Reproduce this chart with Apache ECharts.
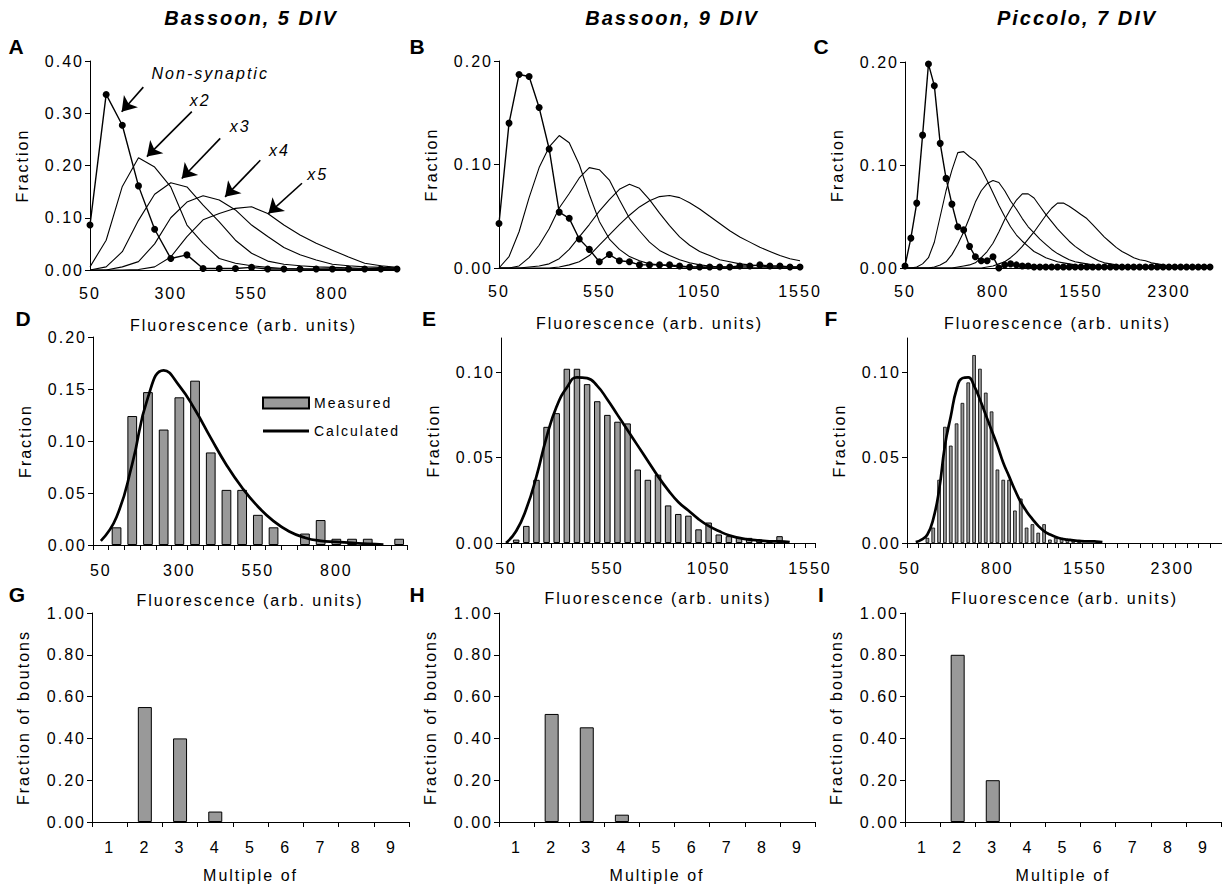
<!DOCTYPE html>
<html>
<head>
<meta charset="utf-8">
<script src="https://cdn.jsdelivr.net/npm/echarts@6/dist/echarts.min.js"></script>
<style>
html, body { margin: 0; padding: 0; background: #fff; }
#main { width: 1222px; height: 885px; }
#main text { letter-spacing: 2px; }
</style>
</head>
<body>
<div id="main"></div>
<script>
// ---- panel A : Bassoon, 5 DIV ----
var fluorA = [50,100,150,200,250,300,350,400,450,500, 550,600,650,700,750,800,850,900,950,1000];
var nonSynA = [0.086,0.336,0.277,0.161,0.078,0.022,0.029,0.003,0.003,0.003, 0.005,0.002,0.002,0.002,0.002,0.002,0.002,0.002,0.002,0.002];
var x2A = [0.006,0.057,0.160,0.215,0.197,0.159,0.086,0.051,0.022,0.013, 0.008,0.005,0.003,0.002,0.001,0.001,0.001,0.001,0.001,0.001];
var x3A = [0,0.006,0.035,0.095,0.145,0.167,0.159,0.124,0.092,0.057, 0.032,0.017,0.011,0.008,0.006,0.005,0.004,0.003,0.003,0.002];
var x4A = [0,0,0.006,0.016,0.050,0.100,0.130,0.142,0.134,0.115, 0.086,0.064,0.043,0.029,0.019,0.011,0.008,0.006,0.005,0.004];
var x5A = [0,0,0,0.001,0.006,0.025,0.064,0.096,0.108,0.118, 0.121,0.108,0.086,0.067,0.051,0.038,0.025,0.013,0.008,0.005];
var ticksA = [50,300,550,800];
// annotation arrows [fromX, fromY, toX, toY] and labels [text, x, y]
var arrowsA = [[215,0.350,148,0.303],[365,0.303,226,0.217],[453,0.252,334,0.175],[577,0.210,468,0.140],[706,0.166,602,0.108]];
var labelsA = [['Non-synaptic',422,0.376],['x2',391,0.325],['x3',515,0.275],['x4',636,0.229],['x5',755,0.182]];

// ---- panel B : Bassoon, 9 DIV ----
var fluorB = [50,100,150,200,250,300,350,400,450,500, 550,600,650,700,750,800,850,900,950,1000,
              1050,1100,1150,1200,1250,1300,1350,1400,1450,1500, 1550];
var nonSynB = [0.043,0.140,0.187,0.185,0.155,0.115,0.054,0.048,0.028,0.018, 0.006,0.013,0.007,0.006,0.003,0.003,0.003,0.003,0.002,0.001,
               0.001,0.001,0.001,0.001,0.002,0.002,0.003,0.002,0.002,0.001, 0.001];
var x2B = [0,0.011,0.035,0.068,0.097,0.117,0.128,0.121,0.100,0.071, 0.045,0.028,0.018,0.011,0.007,0.004,0.003,0.002,0.001,0.001,
           0.001,0,0,0,0,0,0,0,0,0, 0];
var x3B = [0,0,0.002,0.010,0.022,0.038,0.058,0.072,0.087,0.097, 0.095,0.085,0.066,0.048,0.036,0.025,0.017,0.012,0.008,0.005,
           0.003,0.002,0.001,0.001,0,0,0,0,0,0, 0];
var x4B = [0,0,0,0.001,0.002,0.004,0.009,0.018,0.030,0.042, 0.055,0.066,0.076,0.081,0.077,0.066,0.053,0.041,0.030,0.022,
           0.016,0.012,0.008,0.006,0.004,0.003,0.002,0.001,0.001,0.001, 0.001];
var x5B = [0,0,0,0,0,0,0.001,0.003,0.006,0.012, 0.022,0.032,0.042,0.051,0.059,0.065,0.069,0.070,0.068,0.063,
           0.057,0.050,0.043,0.036,0.030,0.025,0.020,0.016,0.012,0.009, 0.007];
var ticksB = [50,550,1050,1550];

// ---- panel C : Piccolo, 7 DIV ----
var fluorC = [50,100,150,200,250,300,350,400,450,500, 550,600,650,700,750,800,850,900,950,1000,
              1050,1100,1150,1200,1250,1300,1350,1400,1450,1500, 1550,1600,1650,1700,1750,1800,1850,1900,1950,2000,
              2050,2100,2150,2200,2250,2300,2350,2400,2450,2500, 2550,2600,2650];
var nonSynC = [0.002,0.029,0.063,0.129,0.198,0.177,0.121,0.087,0.062,0.040, 0.037,0.021,0.011,0.007,0.007,0.011,0.000,0.003,0.004,0.003,
               0.002,0.002,0.001,0.001,0.001,0.001,0.001,0.001,0.001,0.001, 0.001,0.001,0.001,0.001,0.001,0.001,0.001,0.001,0.001,0.001,
               0.001,0.001,0.001,0.001,0.001,0.001,0.001,0.001,0.001,0.001, 0.001,0.001,0.001];
var x2C = [0,0,0.001,0.004,0.010,0.025,0.050,0.075,0.095,0.112, 0.113,0.108,0.104,0.096,0.085,0.073,0.061,0.050,0.040,0.032,
           0.026,0.021,0.016,0.013,0.010,0.008,0.006,0.005,0.004,0.003, 0.002,0.002,0.001,0.001,0,0,0,0,0,0,
           0,0,0,0,0,0,0,0,0,0, 0,0,0];
var x3C = [0,0,0,0,0,0.001,0.003,0.006,0.013,0.023, 0.035,0.049,0.064,0.075,0.082,0.085,0.083,0.075,0.065,0.057,
           0.048,0.040,0.034,0.028,0.023,0.018,0.014,0.011,0.008,0.006, 0.005,0.004,0.003,0.002,0.001,0.001,0,0,0,0,
           0,0,0,0,0,0,0,0,0,0, 0,0,0];
var x4C = [0,0,0,0,0,0,0,0,0,0.001, 0.002,0.003,0.005,0.010,0.016,0.024,0.035,0.047,0.057,0.066,
           0.072,0.072,0.068,0.060,0.052,0.045,0.038,0.032,0.026,0.021, 0.017,0.013,0.010,0.007,0.005,0.004,0.003,0.002,0.001,0.001,
           0,0,0,0,0,0,0,0,0,0, 0,0,0];
var x5C = [0,0,0,0,0,0,0,0,0,0, 0,0,0,0,0.001,0.002,0.004,0.006,0.010,0.015,
           0.021,0.028,0.035,0.043,0.051,0.058,0.063,0.063,0.060,0.056, 0.052,0.048,0.042,0.036,0.030,0.025,0.020,0.016,0.013,0.010,
           0.008,0.007,0.005,0.004,0.003,0.002,0.001,0.001,0,0, 0,0,0];
var ticksC = [50,800,1550,2300];

// ---- panels D, E, F : measured vs calculated histograms ----
var binsD = [50,100,150,200,250,300,350,400,450,500, 550,600,650,700,750,800,850,900,950,1000];
var measuredD = [0,0.017,0.124,0.147,0.111,0.142,0.158,0.089,0.053,0.053, 0.029,0.017,0,0.011,0.024,0.006,0.006,0.006,0,0.006];
var calcD = [0.004,0.027,0.078,0.142,0.168,0.153,0.130,0.103,0.077,0.055, 0.037,0.023,0.013,0.007,0.004,0.003,0.002,0.001,0.0005,'-'];

var binsE = [50,100,150,200,250,300,350,400,450,500, 550,600,650,700,750,800,850,900,950,1000,
             1050,1100,1150,1200,1250,1300,1350,1400,1450,1500, 1550];
var measuredE = [0,0.002,0.010,0.037,0.068,0.076,0.102,0.102,0.093,0.083, 0.075,0.071,0.070,0.043,0.037,0.040,0.022,0.017,0.016,0.008,
                 0.012,0.005,0.004,0.003,0.003,0.002,0.001,0.004,0,0, 0];
var calcE = [0,0.007,0.020,0.039,0.062,0.080,0.091,0.097,0.0965,0.092, 0.084,0.075,0.066,0.057,0.048,0.039,0.031,0.024,0.019,0.014,
             0.010,0.007,0.0045,0.003,0.002,0.0015,0.001,0.001,0.0005,'-', '-'];

var binsF = [50,100,150,200,250,300,350,400,450,500, 550,600,650,700,750,800,850,900,950,1000,
             1050,1100,1150,1200,1250,1300,1350,1400,1450,1500, 1550,1600,1650,1700,1750,1800,1850,1900,1950,2000,
             2050,2100,2150,2200,2250,2300,2350,2400,2450,2500, 2550,2600,2650,2700];
var measuredF = [0,0,0,0.003,0.009,0.037,0.068,0.057,0.070,0.082, 0.094,0.110,0.102,0.088,0.077,0.043,0.037,0.037,0.019,0.026,
                 0.009,0.011,0.006,0.011,0.002,0.003,0.003,0.002,0.0015,0.001, 0,0,0,0,0,0,0,0,0,0,
                 0,0,0,0,0,0,0,0,0,0, 0,0,0,0];
var calcF = ['-',0.0005,0.002,0.005,0.014,0.031,0.057,0.074,0.090,0.0965, 0.097,0.092,0.084,0.075,0.066,0.057,0.047,0.039,0.031,0.024,
             0.0185,0.014,0.010,0.007,0.005,0.0035,0.0025,0.002,0.0015,0.0012, 0.001,0.001,0.0008,0.0005,'-','-','-','-','-','-',
             '-','-','-','-','-','-','-','-','-','-', '-','-','-','-'];

// ---- panels G, H, I : fraction of boutons ----
var multiples = ['1','2','3','4','5','6','7','8','9'];
var boutonsG = [0,0.55,0.40,0.05,0,0,0,0,0];
var boutonsH = [0,0.517,0.453,0.035,0,0,0,0,0];
var boutonsI = [0,0.80,0.20,0,0,0,0,0,0];

var FONT = '"Liberation Sans", Arial, sans-serif';
var xName = 'Fluorescence (arb. units)';

function zip(xs, ys) {
    return xs.map(function (x, i) { return [x, ys[i]]; });
}
function fmt2(v) { return Number(v).toFixed(2); }
function plain(v) { return String(v); }

var grids = [
    {left: 90,  top: 61,  width: 307, height: 209},   // A
    {left: 499, top: 61,  width: 301, height: 207},   // B
    {left: 905, top: 62,  width: 305, height: 206},   // C
    {left: 93,  top: 337, width: 314, height: 208},   // D
    {left: 501, top: 338, width: 314, height: 205},   // E
    {left: 907, top: 338, width: 315, height: 205},   // F
    {left: 92,  top: 613, width: 317, height: 209},   // G
    {left: 499, top: 613, width: 316, height: 209},   // H
    {left: 905, top: 613, width: 316, height: 209}    // I
];

var lineAxis = {show: true, onZero: false, lineStyle: {color: '#000', width: 1}};
var labelBase = {color: '#000', fontSize: 16, fontFamily: FONT};

function yAxisOf(g, max, interval, name, custom) {
    var ax = {
        type: 'value', gridIndex: g, min: 0, max: max, interval: interval,
        name: name, nameLocation: 'middle', nameGap: name === 'Fraction' ? 60 : 61,
        nameTextStyle: {color: '#000', fontSize: 16, fontFamily: FONT},
        axisLine: lineAxis,
        axisTick: {show: true, length: 5, lineStyle: {color: '#000'}},
        axisLabel: Object.assign({margin: 6, formatter: fmt2}, labelBase),
        splitLine: {show: false}
    };
    if (custom) {
        delete ax.interval;
        ax.axisLabel.customValues = custom;
        ax.axisTick.customValues = custom;
    }
    return ax;
}

function xValueAxis(g, max, ticks) {
    return {
        type: 'value', gridIndex: g, min: 50, max: max,
        name: xName, nameLocation: 'middle', nameGap: 47,
        nameTextStyle: {color: '#000', fontSize: 16, fontFamily: FONT},
        axisLine: lineAxis,
        axisTick: {show: false},
        axisLabel: Object.assign({margin: 15, customValues: ticks, formatter: plain}, labelBase),
        splitLine: {show: false}
    };
}

function xCatAxis(g, cats, labelEvery, tickEvery, name) {
    return {
        type: 'category', gridIndex: g, data: cats, boundaryGap: true,
        name: name, nameLocation: 'middle', nameGap: name === xName ? 47 : 45,
        nameTextStyle: {color: '#000', fontSize: 16, fontFamily: FONT},
        axisLine: lineAxis,
        axisTick: {show: true, interval: tickEvery, length: 5, alignWithLabel: false, lineStyle: {color: '#000'}},
        axisLabel: Object.assign({margin: 17, interval: labelEvery}, labelBase),
        splitLine: {show: false}
    };
}

function curve(g, name, xs, ys) {
    return {
        name: name, type: 'line', xAxisIndex: g, yAxisIndex: g,
        data: zip(xs, ys), symbol: 'none', silent: true,
        lineStyle: {color: '#000', width: 1.1}, itemStyle: {color: '#000'}
    };
}
function dots(g, name, xs, ys) {
    return {
        name: name, type: 'line', xAxisIndex: g, yAxisIndex: g, z: 5,
        data: zip(xs, ys), symbol: 'circle', symbolSize: 7, silent: true,
        lineStyle: {color: '#000', width: 1.4}, itemStyle: {color: '#000'}
    };
}
function bars(g, name, ys, width, border) {
    return {
        name: name, type: 'bar', xAxisIndex: g, yAxisIndex: g,
        // empty bins get no outline so nothing is drawn on the axis
        data: ys.map(function (v) { return v === 0 ? {value: 0, itemStyle: {borderWidth: 0}} : v; }),
        barWidth: width, silent: true,
        itemStyle: {color: '#999999', borderColor: '#000', borderWidth: border}
    };
}
function calc(g, name, ys) {
    return {
        name: name, type: 'line', xAxisIndex: g, yAxisIndex: g, data: ys,
        smooth: true, symbol: 'none', silent: true, z: 4,
        lineStyle: {color: '#000', width: 2.7}, itemStyle: {color: '#000'}
    };
}

var nonSynAseries = dots(0, 'Non-synaptic A', fluorA, nonSynA);
nonSynAseries.markLine = {
    silent: true, symbol: ['none', 'arrow'], symbolSize: 14,
    lineStyle: {color: '#000', width: 1.6, type: 'solid'},
    label: {show: false},
    data: arrowsA.map(function (a) { return [{coord: [a[0], a[1]]}, {coord: [a[2], a[3]]}]; })
};
nonSynAseries.markPoint = {
    silent: true, symbol: 'circle', symbolSize: 1,
    itemStyle: {color: 'rgba(0,0,0,0)'},
    label: {show: true, position: 'inside', formatter: '{b}', color: '#000',
            fontSize: 16, fontStyle: 'italic', fontFamily: FONT},
    data: labelsA.map(function (l) { return {name: l[0], coord: [l[1], l[2]]}; })
};

var titles = [['Bassoon, 5 DIV', 251], ['Bassoon, 9 DIV', 672], ['Piccolo, 7 DIV', 1077]];
var letters = [['A', 17, 46], ['B', 418, 46], ['C', 822, 46],
               ['D', 24, 318], ['E', 430, 318], ['F', 832, 318],
               ['G', 18, 594], ['H', 418, 594], ['I', 822, 594]];

var graphics = [];
titles.forEach(function (t) {
    graphics.push({type: 'text', x: t[1], y: 18, silent: true,
        style: {text: t[0], fill: '#000', font: 'italic bold 20px ' + FONT,
                align: 'center', verticalAlign: 'middle', textAlign: 'center', textVerticalAlign: 'middle'}});
});
letters.forEach(function (t) {
    graphics.push({type: 'text', x: t[1], y: t[2], silent: true,
        style: {text: t[0], fill: '#000', font: 'bold 21px ' + FONT,
                align: 'center', verticalAlign: 'middle', textAlign: 'center', textVerticalAlign: 'middle'}});
});

var myChart = echarts.init(document.getElementById('main'), null, {renderer: 'svg'});
option = {
    animation: false,
    backgroundColor: '#fff',
    textStyle: {fontFamily: FONT},
    grid: grids,
    legend: {
        data: [
            {name: 'Measured', icon: 'rect'},
            {name: 'Calculated', icon: 'path://M0,0H46V3H0Z', itemStyle: {color: '#000', borderWidth: 0}}
        ],
        orient: 'vertical', left: 257, top: 391,
        itemWidth: 46, itemHeight: 11, itemGap: 14,
        selectedMode: false,
        textStyle: {color: '#000', fontSize: 14, fontFamily: FONT}
    },
    xAxis: [
        xValueAxis(0, 1000, ticksA),
        xValueAxis(1, 1550, ticksB),
        xValueAxis(2, 2650, ticksC),
        xCatAxis(3, binsD, 4, 0, xName),
        xCatAxis(4, binsE, 9, 0, xName),
        xCatAxis(5, binsF, 14, 1, xName),
        xCatAxis(6, multiples, 0, 0, 'Multiple of'),
        xCatAxis(7, multiples, 0, 0, 'Multiple of'),
        xCatAxis(8, multiples, 0, 0, 'Multiple of')
    ],
    yAxis: [
        yAxisOf(0, 0.4, 0.1, 'Fraction'),
        yAxisOf(1, 0.2, 0.1, 'Fraction'),
        yAxisOf(2, 0.2, 0.1, 'Fraction'),
        yAxisOf(3, 0.2, 0.05, 'Fraction'),
        yAxisOf(4, 0.12, 0.05, 'Fraction', [0, 0.05, 0.1]),
        yAxisOf(5, 0.12, 0.05, 'Fraction', [0, 0.05, 0.1]),
        yAxisOf(6, 1, 0.2, 'Fraction of boutons'),
        yAxisOf(7, 1, 0.2, 'Fraction of boutons'),
        yAxisOf(8, 1, 0.2, 'Fraction of boutons')
    ],
    graphic: graphics,
    series: [
        curve(0, 'x2 A', fluorA, x2A),
        curve(0, 'x3 A', fluorA, x3A),
        curve(0, 'x4 A', fluorA, x4A),
        curve(0, 'x5 A', fluorA, x5A),
        nonSynAseries,

        curve(1, 'x2 B', fluorB, x2B),
        curve(1, 'x3 B', fluorB, x3B),
        curve(1, 'x4 B', fluorB, x4B),
        curve(1, 'x5 B', fluorB, x5B),
        dots(1, 'Non-synaptic B', fluorB, nonSynB),

        curve(2, 'x2 C', fluorC, x2C),
        curve(2, 'x3 C', fluorC, x3C),
        curve(2, 'x4 C', fluorC, x4C),
        curve(2, 'x5 C', fluorC, x5C),
        dots(2, 'Non-synaptic C', fluorC, nonSynC),

        bars(3, 'Measured', measuredD, '62%', 1),
        calc(3, 'Calculated', calcD),
        bars(4, 'Measured E', measuredE, '64%', 1),
        calc(4, 'Calculated E', calcE),
        bars(5, 'Measured F', measuredF, '62%', 0.8),
        calc(5, 'Calculated F', calcF),

        bars(6, 'Boutons G', boutonsG, 14, 1),
        bars(7, 'Boutons H', boutonsH, 14, 1),
        bars(8, 'Boutons I', boutonsI, 14, 1)
    ]
};
myChart.setOption(option);
window.onresize = myChart.resize;
</script>
</body>
</html>
